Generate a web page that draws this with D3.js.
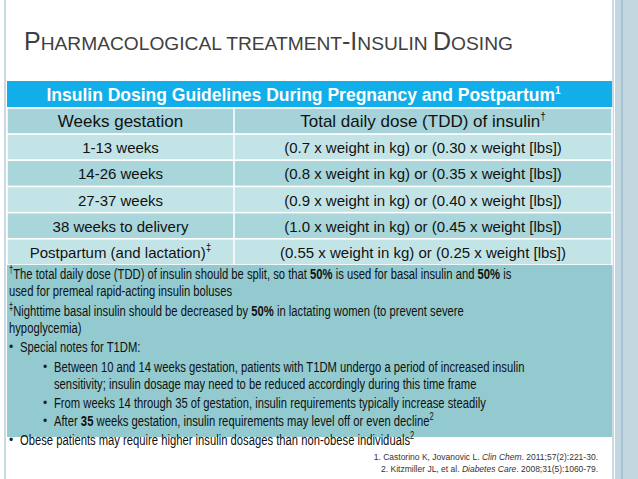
<!DOCTYPE html>
<html>
<head>
<meta charset="utf-8">
<script src="https://cdn.jsdelivr.net/npm/d3@7"></script>
<style>
  body { margin: 0; background: #fff; }
  text { font-family: "Liberation Sans", Arial, sans-serif; }
</style>
</head>
<body>
<svg id="chart" width="638" height="479"></svg>
<script>
const TITLE = 'Insulin Dosing Guidelines During Pregnancy and Postpartum';
const HEADERS = ['Weeks gestation', 'Total daily dose (TDD) of insulin'];
const WEEKS = ['1-13 weeks', '14-26 weeks', '27-37 weeks', '38 weeks to delivery', 'Postpartum  (and lactation)'];
const DOSES = [
  '(0.7 x weight in kg) or (0.30 x weight [lbs])',
  '(0.8 x weight in kg) or (0.35 x weight [lbs])',
  '(0.9 x weight in kg) or (0.40 x weight [lbs])',
  '(1.0 x weight in kg) or (0.45 x weight [lbs])',
  '(0.55 x weight in kg) or (0.25 x weight [lbs])'
];
// note lines: [indent, bullet, text segments]
const NOTES = [
  [0, '', [['†', 'sup'], ['The total daily dose (TDD) of insulin should be split, so that '], ['50%', 'b'], [' is used for basal insulin and '], ['50%', 'b'], [' is']]],
  [0, '', [['used for premeal rapid-acting insulin boluses']]],
  [0, '', [['‡', 'sup'], ['Nighttime basal insulin should be decreased by '], ['50%', 'b'], [' in lactating women (to prevent severe']]],
  [0, '', [['hypoglycemia)']]],
  [0, '•', [['Special notes for T1DM:']]],
  [1, '•', [['Between 10 and 14 weeks gestation, patients with T1DM undergo a period of increased insulin']]],
  [1, '', [['sensitivity; insulin dosage may need to be reduced accordingly during this time frame']]],
  [1, '•', [['From weeks 14 through 35 of gestation, insulin requirements typically increase steadily']]],
  [1, '•', [['After '], ['35', 'b'], [' weeks gestation, insulin requirements may level off or even decline'], ['2', 'sup']]],
  [0, '•', [['Obese patients may require higher insulin dosages than non-obese individuals'], ['2', 'sup']]]
];
const NOTE_Y = [279, 296, 316, 333, 352, 372, 389, 408, 426, 445];
const REFS = [
  ['1.   Castorino K, Jovanovic L. ', ['Clin Chem'], '. 2011;57(2):221-30.'],
  ['2.   Kitzmiller JL, et al. ', ['Diabetes Care'], '. 2008;31(5):1060-79.']
];

const svg = d3.select('#chart');

// right decorative strip
svg.append('rect').attr('x', 615).attr('y', 0).attr('width', 23).attr('height', 479).attr('fill', '#c3d7e1');
svg.append('line').attr('x1', 622).attr('x2', 622).attr('y1', 0).attr('y2', 479).attr('stroke', '#8fb3c6');
svg.append('rect').attr('x', 5).attr('y', -2).attr('width', 608).attr('height', 490)
  .attr('fill', '#fff').attr('stroke', '#c6d9e4').attr('stroke-width', 2);

// slide title with small caps
const t = svg.append('text').attr('x', 24).attr('y', 50).attr('fill', '#404040');
[['P', 25], ['HARMACOLOGICAL TREATMENT', 19.2], ['-I', 25], ['NSULIN ', 19.2], ['D', 25], ['OSING', 19.2]]
  .forEach(([s, f]) => t.append('tspan').attr('font-size', f).text(s));

const L = 7, R = 612, SPLIT = 234;
const rowY = d3.scaleBand().domain(d3.range(WEEKS.length + 1)).range([108, 265]);

svg.append('rect').attr('x', L).attr('y', 81).attr('width', R - L).attr('height', 26).attr('fill', '#12aee9');
const tt = svg.append('text').attr('x', (L + R) / 2 - 6).attr('y', 101).attr('text-anchor', 'middle')
  .attr('fill', '#fff').attr('font-weight', 'bold').attr('font-size', 17.5).text(TITLE);
tt.append('tspan').attr('font-size', 10).attr('dy', -7).text('1');

const rows = [HEADERS].concat(WEEKS.map((w, i) => [w, DOSES[i]]));
const colors = ['#a5d3d9', '#c3e4e7', '#a8d6db', '#c3e4e7', '#a8d6db', '#c3e4e7'];
const g = svg.selectAll('g.row').data(rows).join('g').attr('class', 'row')
  .attr('transform', (d, i) => `translate(0,${rowY(i)})`);
g.append('rect').attr('x', L).attr('width', R - L).attr('height', rowY.bandwidth())
  .attr('fill', (d, i) => colors[i]).attr('stroke', '#fff').attr('stroke-width', 1.5);
g.append('line').attr('x1', SPLIT).attr('x2', SPLIT).attr('y1', 0).attr('y2', rowY.bandwidth())
  .attr('stroke', '#fff').attr('stroke-width', 1.5);
const c1 = g.append('text').attr('x', (L + SPLIT) / 2).attr('y', 19).attr('text-anchor', 'middle')
  .attr('font-size', (d, i) => i === 0 ? 17 : 15).attr('fill', '#111').text(d => d[0]);
const c2 = g.append('text').attr('x', (SPLIT + R) / 2).attr('y', 19).attr('text-anchor', 'middle')
  .attr('font-size', (d, i) => i === 0 ? 17 : 15).attr('fill', '#111').text(d => d[1]);
c2.filter((d, i) => i === 0).append('tspan').attr('font-size', 10).attr('dy', -7).text('†');
c1.filter((d, i) => i === WEEKS.length).append('tspan').attr('font-size', 10).attr('dy', -7).text('‡');

// notes block (condensed text)
svg.append('rect').attr('x', L).attr('y', 265).attr('width', R - L).attr('height', 172).attr('fill', '#92cacf');
const SX = 0.75;
NOTES.forEach(([ind, bul, segs], i) => {
  const bx = ind ? 43 : 9;
  if (bul) svg.append('text').attr('x', bx).attr('y', NOTE_Y[i] - 1).attr('font-size', 12).attr('fill', '#222').text(bul);
  const tx0 = bul || ind ? bx + 11 : 9;
  const tx = svg.append('text').attr('transform', `translate(${tx0},${NOTE_Y[i]}) scale(${SX},1)`)
    .attr('font-size', 15).attr('fill', '#111');
  segs.forEach(([s, k]) => {
    const sp = tx.append('tspan').text(s);
    if (k === 'b') sp.attr('font-weight', 'bold');
    if (k === 'sup') sp.attr('font-size', 10).attr('baseline-shift', '6');
  });
});

REFS.forEach((r, i) => {
  const tx = svg.append('text').attr('x', 598).attr('y', 460 + i * 12).attr('text-anchor', 'end')
    .attr('font-size', 8.5).attr('fill', '#333');
  tx.append('tspan').text(r[0]);
  tx.append('tspan').attr('font-style', 'italic').text(r[1][0]);
  tx.append('tspan').text(r[2]);
});
</script>
</body>
</html>
